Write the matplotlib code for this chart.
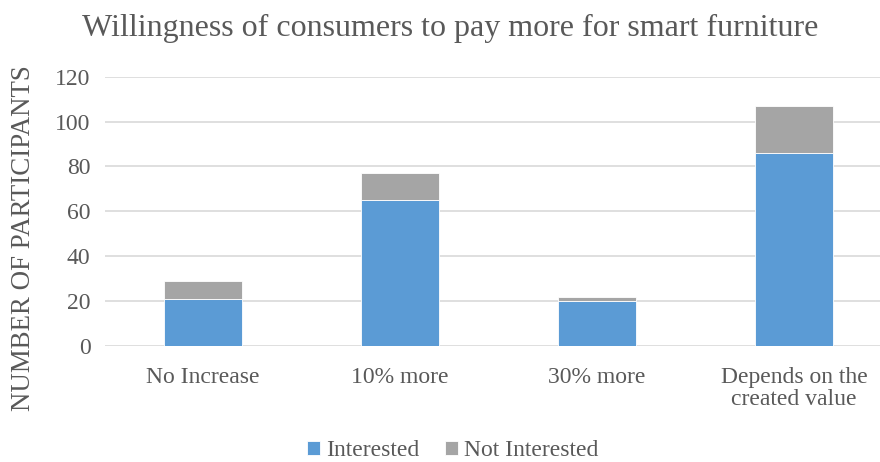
import matplotlib.pyplot as plt
import numpy as np

plt.rcParams['font.family'] = ['Liberation Serif', 'DejaVu Serif']

categories = ['No Increase', '10% more', '30% more', 'Depends on the\ncreated value']
interested = [21, 65, 20, 86]
not_interested = [8, 12, 2, 21]

fig = plt.figure(figsize=(8.8, 4.62), dpi=100)
ax = fig.add_axes([104.5 / 880, (462 - 346) / 462, 788 / 880, (346 - 76.7) / 462])

x = np.arange(len(categories))
ax.bar(x, interested, 0.4, color='#5B9BD5', edgecolor='white', linewidth=0.6,
       label='Interested', zorder=3)
ax.bar(x, not_interested, 0.4, bottom=interested, color='#A5A5A5',
       edgecolor='white', linewidth=0.6, label='Not Interested', zorder=3)

ax.set_xlim(-0.5, 3.5)
ax.set_ylim(0, 120)
ax.set_yticks(range(0, 121, 20))
ax.set_xticks(x)
ax.set_xticklabels(categories, fontsize=17, color='#595959', linespacing=1.05)
ax.tick_params(axis='y', labelsize=17, labelcolor='#595959', length=0, pad=10)
ax.tick_params(axis='x', length=0, pad=15)
ax.grid(axis='y', color='#d9d9d9', linewidth=1.2, zorder=0)
for s in ax.spines.values():
    s.set_visible(False)

fig.text(450 / 880, 1 - 28 / 462, 'Willingness of consumers to pay more for smart furniture',
         ha='center', va='center', fontsize=23, color='#595959')
fig.text(24 / 880, 1 - 238 / 462, 'NUMBER OF PARTICIPANTS', rotation=90,
         ha='center', va='center', fontsize=19.4, color='#595959')

fig.legend(loc='center', bbox_to_anchor=(453 / 880, 1 - 451 / 462), ncol=2,
           frameon=False, fontsize=17, labelcolor='#595959',
           handlelength=0.55, handleheight=0.55, handletextpad=0.25, columnspacing=1.1)

fig.savefig('out.png', dpi=100)
